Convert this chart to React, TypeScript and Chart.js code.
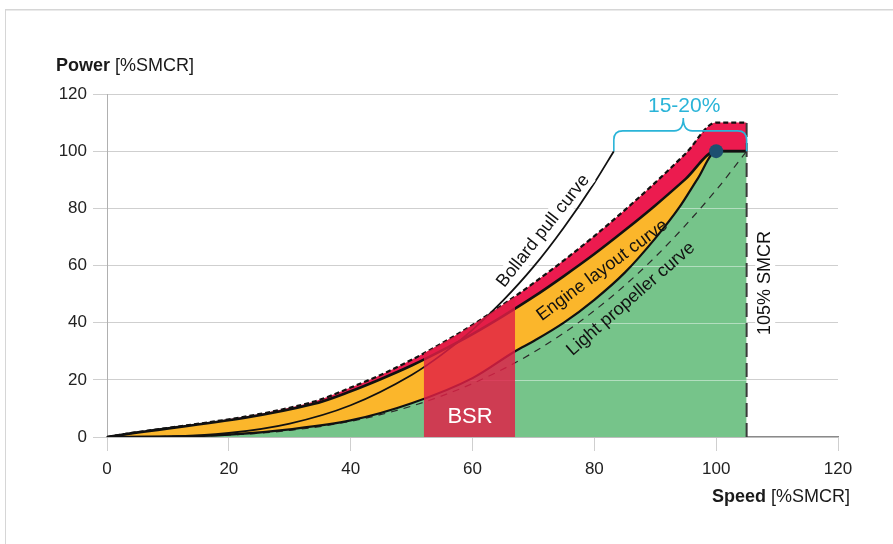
import React, { useEffect, useRef } from 'react';
import { Chart, registerables } from 'chart.js';

Chart.register(...registerables);

// ---- axis ticks ----
const X_TICKS = [0, 20, 40, 60, 80, 100, 120];
const Y_TICKS = [0, 20, 40, 60, 80, 100, 120];

// ---- curves (speed %SMCR -> power %SMCR) ----
// upper limit of load diagram (dashed, top of red band)
const limitSpeed = [0, 34, 40, 45, 50, 55, 60, 65, 70, 75, 80, 85, 90, 95, 100, 105];
const limitPower = [0, 12.4, 17.3, 21.8, 27, 32.8, 39.2, 46.3, 53.8, 61.8, 70.3, 79.4, 89, 99.2, 110, 110];
// top of engine layout (orange) area
const layoutTopSpeed = [0, 34, 40, 45, 50, 55, 60, 65, 70, 75, 80, 85, 90, 95, 100, 105];
const layoutTopPower = [0, 11.6, 16, 20.3, 25, 30.3, 36, 42.3, 49, 56.3, 64, 72.3, 81, 90.3, 100, 100];
// engine layout curve (bottom of orange area / top of green area)
const engineLayoutSpeed = [0, 10, 20, 30, 40, 50, 60, 67, 70, 75, 80, 85, 90, 94, 97, 100, 105];
const engineLayoutPower = [0, 0.1, 0.8, 2.7, 5.8, 11.8, 20.6, 30, 33.5, 40, 48, 57.5, 69.5, 80.5, 90.5, 100, 100];
// light propeller curve (dashed)
const lightPropSpeed = [0, 20, 30, 40, 50, 60, 70, 80, 90, 100, 105];
const lightPropPower = [0, 0.7, 2.3, 5.5, 10.8, 18.7, 29.6, 44.2, 63, 86.4, 100];
// bollard pull curve
const bollardSpeed = [0, 10, 20, 30, 40, 50, 55, 60, 65, 70, 75, 80, 83.2];
const bollardPower = [0, 0.17, 1.4, 4.7, 11.1, 21.7, 28.9, 37.5, 47.7, 59.5, 73.3, 88.9, 100];
// barred speed range
const bsrSpeed = [52, 67];
const bsrPower = [0, 0];
// 105% SMCR limit line
const smcrLimitSpeed = [105, 105];
const smcrLimitPower = [0, 110];
// SMCR point
const smcrSpeed = [100];
const smcrPower = [100];

const FONT = "'Liberation Sans', Arial, Helvetica, sans-serif";
const GREEN = '#76c48a';
const ORANGE = '#fbb62b';
const RED = '#ec1b4f';
const BSR_FILL = 'rgba(226,30,70,0.82)';
const CYAN = '#2ab4d8';

const pts = (xs: number[], ys: number[]) => xs.map((x, i) => ({ x, y: ys[i] }));

export default function App() {
  const ref = useRef<HTMLCanvasElement>(null);

  useEffect(() => {
    const canvas = ref.current!;

    const overlay = {
      id: 'overlay',
      beforeDraw(chart: any) {
        const ctx = chart.ctx;
        ctx.save();
        ctx.fillStyle = '#d6d6d6';
        ctx.fillRect(5, 9, chart.width - 5, 1.5);
        ctx.fillRect(5, 9, 1, chart.height - 9);
        ctx.restore();
      },
      afterDatasetDraw(chart: any, args: any) {
        if (args.index !== 0) return;
        const { ctx, chartArea, scales } = chart;
        const xs = scales.x, ys = scales.y;
        const line = chart.getDatasetMeta(0).dataset;
        ctx.save();
        ctx.beginPath();
        line.path(ctx);
        ctx.lineTo(xs.getPixelForValue(105), ys.getPixelForValue(0));
        ctx.lineTo(xs.getPixelForValue(0), ys.getPixelForValue(0));
        ctx.closePath();
        ctx.clip();
        ctx.strokeStyle = 'rgba(255,255,255,0.45)';
        ctx.lineWidth = 1;
        for (const v of Y_TICKS) {
          if (v <= 0) continue;
          const py = Math.round(ys.getPixelForValue(v)) + 0.5;
          ctx.beginPath();
          ctx.moveTo(chartArea.left, py);
          ctx.lineTo(chartArea.right, py);
          ctx.stroke();
        }
        ctx.restore();
      },
      afterDatasetsDraw(chart: any) {
        const { ctx, scales } = chart;
        const X = (v: number) => scales.x.getPixelForValue(v);
        const Y = (v: number) => scales.y.getPixelForValue(v);

        const label = (text: string, px: number, py: number, rot: number, font: string, color: string, halo = false) => {
          ctx.save();
          ctx.translate(px, py);
          ctx.rotate((rot * Math.PI) / 180);
          ctx.font = font;
          ctx.textAlign = 'center';
          ctx.textBaseline = 'middle';
          if (halo) {
            const w = ctx.measureText(text).width;
            ctx.fillStyle = '#ffffff';
            ctx.fillRect(-w / 2 - 3, -10, w + 6, 20);
          }
          ctx.fillStyle = color;
          ctx.fillText(text, 0, 0);
          ctx.restore();
        };

        label('Bollard pull curve', X(71.6), Y(72.1), -51.7, `18px ${FONT}`, '#111', true);
        label('Engine layout curve', X(81.3), Y(58.3), -36.5, `18px ${FONT}`, '#111');
        label('Light propeller curve', X(86.0), Y(48.3), -41, `18px ${FONT}`, '#111');
        label('105% SMCR', X(108.05), Y(53.9), -90, `18px ${FONT}`, '#111', true);
        label('BSR', X(59.6), Y(7), 0, `22px ${FONT}`, '#ffffff');
        label('15-20%', X(94.75), Y(115.8), 0, `21px ${FONT}`, CYAN);

        // brace
        const L = X(83.2), R = X(105), yb = Y(100), yh = Y(107.1), tipX = X(94.6), tipY = Y(111.6), r = 9;
        ctx.save();
        ctx.strokeStyle = CYAN;
        ctx.lineWidth = 1.6;
        ctx.beginPath();
        ctx.moveTo(L, yb);
        ctx.lineTo(L, yh + r);
        ctx.quadraticCurveTo(L, yh, L + r, yh);
        ctx.lineTo(tipX - r, yh);
        ctx.quadraticCurveTo(tipX, yh, tipX, tipY);
        ctx.quadraticCurveTo(tipX, yh, tipX + r, yh);
        ctx.lineTo(R - r, yh);
        ctx.quadraticCurveTo(R, yh, R, yh + r);
        ctx.lineTo(R, yb);
        ctx.stroke();
        ctx.restore();
      },
      afterDraw(chart: any) {
        const ctx = chart.ctx;
        ctx.save();
        ctx.fillStyle = '#1a1a1a';
        ctx.textBaseline = 'alphabetic';
        ctx.textAlign = 'left';
        ctx.font = `bold 18px ${FONT}`;
        const p = 'Power ';
        ctx.fillText(p, 56, 71);
        const pw = ctx.measureText(p).width;
        ctx.font = `18px ${FONT}`;
        ctx.fillText('[%SMCR]', 56 + pw, 71);

        const s2 = '[%SMCR]';
        const s2w = ctx.measureText(s2).width;
        ctx.font = `bold 18px ${FONT}`;
        const s1 = 'Speed ';
        const s1w = ctx.measureText(s1).width;
        const right = 850;
        ctx.fillText(s1, right - s2w - s1w, 502);
        ctx.font = `18px ${FONT}`;
        ctx.fillText(s2, right - s2w, 502);
        ctx.restore();
      },
    };

    const chart = new Chart(canvas, {
      type: 'line',
      data: {
        datasets: [
          { label: 'green', data: pts(engineLayoutSpeed, engineLayoutPower), fill: 'origin', backgroundColor: GREEN, borderColor: 'transparent', borderWidth: 0, order: 10 } as any,
          { label: 'orange', data: pts(layoutTopSpeed, layoutTopPower), fill: { target: 0 }, backgroundColor: ORANGE, borderColor: 'transparent', borderWidth: 0, order: 9 },
          { label: 'red', data: pts(limitSpeed, limitPower), fill: { target: 1 }, backgroundColor: RED, borderColor: 'transparent', borderWidth: 0, order: 8 },
          { label: 'Light propeller curve', data: pts(lightPropSpeed, lightPropPower), fill: false, borderColor: '#2a2a2a', borderWidth: 1.2, borderDash: [7, 6], order: 7 },
          { label: 'Engine layout curve', data: pts(engineLayoutSpeed, engineLayoutPower), fill: false, borderColor: '#111', borderWidth: 2.2, order: 6 },
          { label: 'Bollard pull curve', data: pts(bollardSpeed, bollardPower), fill: false, borderColor: '#111', borderWidth: 1.8, order: 5 },
          { label: 'layout top', data: pts(layoutTopSpeed, layoutTopPower), fill: false, borderColor: '#111', borderWidth: 2.6, order: 4 },
          { label: 'limit', data: pts(limitSpeed, limitPower), fill: false, borderColor: '#111', borderWidth: 2.2, borderDash: [5, 3], order: 3 },
          { label: 'BSR', data: pts(bsrSpeed, bsrPower), fill: { target: 2 }, backgroundColor: BSR_FILL, borderColor: 'transparent', borderWidth: 0, order: 2 },
          { label: '105% SMCR', data: pts(smcrLimitSpeed, smcrLimitPower), fill: false, borderColor: '#3a3a3a', borderWidth: 2, borderDash: [14, 6], tension: 0, cubicInterpolationMode: 'default', order: 1 },
          { label: 'SMCR', data: pts(smcrSpeed, smcrPower), fill: false, showLine: false, pointRadius: 7, pointBackgroundColor: '#1d5070', pointBorderWidth: 0, borderColor: 'transparent', order: 0 },
        ],
      },
      options: {
        responsive: false,
        animation: false,
        events: [],
        layout: { padding: { top: 94, right: 55, bottom: 0, left: 0 } },
        elements: {
          point: { radius: 0, hoverRadius: 0 },
          line: { cubicInterpolationMode: 'monotone' },
        },
        plugins: {
          legend: { display: false },
          tooltip: { enabled: false },
          colors: { enabled: false },
        } as any,
        scales: {
          x: {
            type: 'linear',
            min: 0,
            max: 120,
            afterBuildTicks: (s: any) => { s.ticks = X_TICKS.map((v) => ({ value: v })); },
            afterFit: (s: any) => { s.height = 107; },
            ticks: { color: '#222', font: { family: FONT, size: 17 }, padding: 8, maxRotation: 0 },
            grid: { drawOnChartArea: false, drawTicks: true, tickLength: 14, color: '#cfcfcf', lineWidth: 1 },
            border: { color: '#8a8a8a', width: 1.2 },
          },
          y: {
            type: 'linear',
            min: 0,
            max: 120,
            afterBuildTicks: (s: any) => { s.ticks = Y_TICKS.map((v) => ({ value: v })); },
            afterFit: (s: any) => { s.width = 107; },
            ticks: { color: '#222', font: { family: FONT, size: 17 }, padding: 6 },
            grid: { color: '#cfcfcf', tickLength: 14, lineWidth: 1 },
            border: { color: '#b0b0b0', width: 1 },
          },
        },
      },
      plugins: [overlay],
    } as any);

    return () => chart.destroy();
  }, []);

  return (
    <div style={{ position: 'absolute', left: 0, top: 0, width: 893, height: 544, background: '#fff' }}>
      <canvas ref={ref} width={893} height={544} style={{ display: 'block' }} />
    </div>
  );
}
